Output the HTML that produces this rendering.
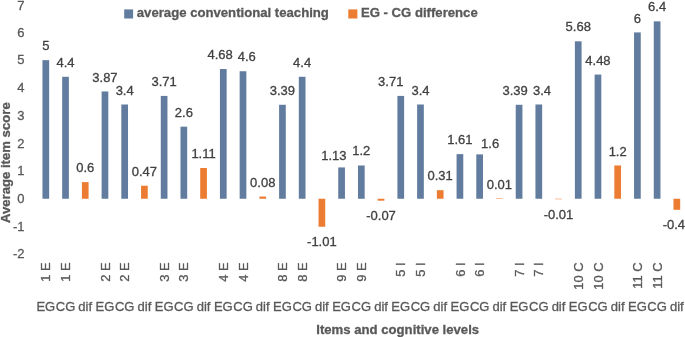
<!DOCTYPE html>
<html><head><meta charset="utf-8"><title>Chart</title>
<style>html,body{margin:0;padding:0;background:#fff;overflow:hidden}text{stroke-width:0.3px}.ax{fill:#595959;stroke:#595959}.dl{fill:#404040;stroke:#404040}.b{font-weight:bold;font-size:13.15px}</style></head>
<body>
<svg width="685" height="337" viewBox="0 0 685 337" style="display:block;font-family:'Liberation Sans',Arial,sans-serif;font-size:13px">
<rect width="685" height="337" fill="#fff"/>
<text x="24.6" y="258.44" text-anchor="end" class="ax">-2</text>
<text x="24.6" y="230.72" text-anchor="end" class="ax">-1</text>
<text x="24.6" y="203.00" text-anchor="end" class="ax">0</text>
<text x="24.6" y="175.28" text-anchor="end" class="ax">1</text>
<text x="24.6" y="147.56" text-anchor="end" class="ax">2</text>
<text x="24.6" y="119.84" text-anchor="end" class="ax">3</text>
<text x="24.6" y="92.12" text-anchor="end" class="ax">4</text>
<text x="24.6" y="64.40" text-anchor="end" class="ax">5</text>
<text x="24.6" y="36.68" text-anchor="end" class="ax">6</text>
<text x="24.6" y="9.70" text-anchor="end" class="ax">7</text>
<text transform="translate(9.7,162.7) rotate(-90)" text-anchor="middle" class="ax b">Average item score</text>
<rect x="124.2" y="9.4" width="8.9" height="9.1" fill="#617c9f"/>
<text x="136.8" y="17.2" class="ax b">average conventional teaching</text>
<rect x="348.3" y="9.4" width="9.1" height="9.1" fill="#ec7c31"/>
<text x="360.9" y="17.2" class="ax b">EG - CG difference</text>
<rect x="42.45" y="60.15" width="6.7" height="138.60" fill="#617c9f"/>
<text x="45.80" y="50.25" text-anchor="middle" class="dl">5</text>
<rect x="62.17" y="76.78" width="6.7" height="121.97" fill="#617c9f"/>
<text x="65.52" y="66.88" text-anchor="middle" class="dl">4.4</text>
<rect x="81.89" y="182.12" width="6.7" height="16.63" fill="#ec7c31"/>
<text x="85.24" y="172.22" text-anchor="middle" class="dl">0.6</text>
<rect x="101.61" y="91.47" width="6.7" height="107.28" fill="#617c9f"/>
<text x="104.96" y="81.57" text-anchor="middle" class="dl">3.87</text>
<rect x="121.33" y="104.50" width="6.7" height="94.25" fill="#617c9f"/>
<text x="124.68" y="94.60" text-anchor="middle" class="dl">3.4</text>
<rect x="141.05" y="185.72" width="6.7" height="13.03" fill="#ec7c31"/>
<text x="144.40" y="175.82" text-anchor="middle" class="dl">0.47</text>
<rect x="160.77" y="95.91" width="6.7" height="102.84" fill="#617c9f"/>
<text x="164.12" y="86.01" text-anchor="middle" class="dl">3.71</text>
<rect x="180.49" y="126.68" width="6.7" height="72.07" fill="#617c9f"/>
<text x="183.84" y="116.78" text-anchor="middle" class="dl">2.6</text>
<rect x="200.21" y="167.98" width="6.7" height="30.77" fill="#ec7c31"/>
<text x="203.56" y="158.08" text-anchor="middle" class="dl">1.11</text>
<rect x="219.93" y="69.02" width="6.7" height="129.73" fill="#617c9f"/>
<text x="220.08" y="59.12" text-anchor="middle" class="dl">4.68</text>
<rect x="239.65" y="71.24" width="6.7" height="127.51" fill="#617c9f"/>
<text x="246.70" y="61.34" text-anchor="middle" class="dl">4.6</text>
<rect x="259.37" y="196.53" width="6.7" height="2.22" fill="#ec7c31"/>
<text x="262.72" y="186.63" text-anchor="middle" class="dl">0.08</text>
<rect x="279.09" y="104.78" width="6.7" height="93.97" fill="#617c9f"/>
<text x="282.44" y="94.88" text-anchor="middle" class="dl">3.39</text>
<rect x="298.81" y="76.78" width="6.7" height="121.97" fill="#617c9f"/>
<text x="302.16" y="66.88" text-anchor="middle" class="dl">4.4</text>
<rect x="318.53" y="198.75" width="6.7" height="28.00" fill="#ec7c31"/>
<text x="321.88" y="246.25" text-anchor="middle" class="dl">-1.01</text>
<rect x="338.25" y="167.43" width="6.7" height="31.32" fill="#617c9f"/>
<text x="333.90" y="160.43" text-anchor="middle" class="dl">1.13</text>
<rect x="357.97" y="165.49" width="6.7" height="33.26" fill="#617c9f"/>
<text x="361.32" y="155.19" text-anchor="middle" class="dl">1.2</text>
<rect x="377.69" y="198.75" width="6.7" height="1.94" fill="#ec7c31"/>
<text x="381.04" y="220.19" text-anchor="middle" class="dl">-0.07</text>
<rect x="397.41" y="95.91" width="6.7" height="102.84" fill="#617c9f"/>
<text x="390.76" y="86.01" text-anchor="middle" class="dl">3.71</text>
<rect x="417.13" y="104.50" width="6.7" height="94.25" fill="#617c9f"/>
<text x="420.48" y="94.60" text-anchor="middle" class="dl">3.4</text>
<rect x="436.85" y="190.16" width="6.7" height="8.59" fill="#ec7c31"/>
<text x="440.20" y="180.26" text-anchor="middle" class="dl">0.31</text>
<rect x="456.57" y="154.12" width="6.7" height="44.63" fill="#617c9f"/>
<text x="459.92" y="144.22" text-anchor="middle" class="dl">1.61</text>
<rect x="476.29" y="154.40" width="6.7" height="44.35" fill="#617c9f"/>
<text x="490.14" y="148.00" text-anchor="middle" class="dl">1.6</text>
<rect x="496.01" y="198.47" width="6.7" height="0.50" fill="#ec7c31"/>
<text x="499.36" y="188.57" text-anchor="middle" class="dl">0.01</text>
<rect x="515.73" y="104.78" width="6.7" height="93.97" fill="#617c9f"/>
<text x="515.08" y="94.88" text-anchor="middle" class="dl">3.39</text>
<rect x="535.45" y="104.50" width="6.7" height="94.25" fill="#617c9f"/>
<text x="542.00" y="94.60" text-anchor="middle" class="dl">3.4</text>
<rect x="555.17" y="198.75" width="6.7" height="0.50" fill="#ec7c31"/>
<text x="558.52" y="218.53" text-anchor="middle" class="dl">-0.01</text>
<rect x="574.89" y="41.30" width="6.7" height="157.45" fill="#617c9f"/>
<text x="578.24" y="31.40" text-anchor="middle" class="dl">5.68</text>
<rect x="594.61" y="74.56" width="6.7" height="124.19" fill="#617c9f"/>
<text x="597.96" y="64.66" text-anchor="middle" class="dl">4.48</text>
<rect x="614.33" y="165.49" width="6.7" height="33.26" fill="#ec7c31"/>
<text x="617.68" y="155.59" text-anchor="middle" class="dl">1.2</text>
<rect x="634.05" y="32.43" width="6.7" height="166.32" fill="#617c9f"/>
<text x="637.40" y="22.53" text-anchor="middle" class="dl">6</text>
<rect x="653.77" y="21.34" width="6.7" height="177.41" fill="#617c9f"/>
<text x="657.12" y="11.44" text-anchor="middle" class="dl">6.4</text>
<rect x="673.49" y="198.75" width="6.7" height="11.09" fill="#ec7c31"/>
<text x="673.84" y="229.34" text-anchor="middle" class="dl">-0.4</text>
<text transform="translate(50.45,262.3) rotate(-90)" text-anchor="end" class="ax">1 E</text>
<text transform="translate(70.17,262.3) rotate(-90)" text-anchor="end" class="ax">1 E</text>
<text transform="translate(109.61,262.3) rotate(-90)" text-anchor="end" class="ax">2 E</text>
<text transform="translate(129.33,262.3) rotate(-90)" text-anchor="end" class="ax">2 E</text>
<text transform="translate(168.77,262.3) rotate(-90)" text-anchor="end" class="ax">3 E</text>
<text transform="translate(188.49,262.3) rotate(-90)" text-anchor="end" class="ax">3 E</text>
<text transform="translate(227.93,262.3) rotate(-90)" text-anchor="end" class="ax">4 E</text>
<text transform="translate(247.65,262.3) rotate(-90)" text-anchor="end" class="ax">4 E</text>
<text transform="translate(287.09,262.3) rotate(-90)" text-anchor="end" class="ax">8 E</text>
<text transform="translate(306.81,262.3) rotate(-90)" text-anchor="end" class="ax">8 E</text>
<text transform="translate(346.25,262.3) rotate(-90)" text-anchor="end" class="ax">9 E</text>
<text transform="translate(365.97,262.3) rotate(-90)" text-anchor="end" class="ax">9 E</text>
<text transform="translate(405.41,262.3) rotate(-90)" text-anchor="end" class="ax">5 I</text>
<text transform="translate(425.13,262.3) rotate(-90)" text-anchor="end" class="ax">5 I</text>
<text transform="translate(464.57,262.3) rotate(-90)" text-anchor="end" class="ax">6 I</text>
<text transform="translate(484.29,262.3) rotate(-90)" text-anchor="end" class="ax">6 I</text>
<text transform="translate(523.73,262.3) rotate(-90)" text-anchor="end" class="ax">7 I</text>
<text transform="translate(543.45,262.3) rotate(-90)" text-anchor="end" class="ax">7 I</text>
<text transform="translate(582.89,262.3) rotate(-90)" text-anchor="end" class="ax">10 C</text>
<text transform="translate(602.61,262.3) rotate(-90)" text-anchor="end" class="ax">10 C</text>
<text transform="translate(642.05,262.3) rotate(-90)" text-anchor="end" class="ax">11 C</text>
<text transform="translate(661.77,262.3) rotate(-90)" text-anchor="end" class="ax">11 C</text>
<text x="45.80" y="310.9" text-anchor="middle" class="ax">EG</text>
<text x="65.52" y="310.9" text-anchor="middle" class="ax">CG</text>
<text x="85.24" y="310.9" text-anchor="middle" class="ax">dif</text>
<text x="104.96" y="310.9" text-anchor="middle" class="ax">EG</text>
<text x="124.68" y="310.9" text-anchor="middle" class="ax">CG</text>
<text x="144.40" y="310.9" text-anchor="middle" class="ax">dif</text>
<text x="164.12" y="310.9" text-anchor="middle" class="ax">EG</text>
<text x="183.84" y="310.9" text-anchor="middle" class="ax">CG</text>
<text x="203.56" y="310.9" text-anchor="middle" class="ax">dif</text>
<text x="223.28" y="310.9" text-anchor="middle" class="ax">EG</text>
<text x="243.00" y="310.9" text-anchor="middle" class="ax">CG</text>
<text x="262.72" y="310.9" text-anchor="middle" class="ax">dif</text>
<text x="282.44" y="310.9" text-anchor="middle" class="ax">EG</text>
<text x="302.16" y="310.9" text-anchor="middle" class="ax">CG</text>
<text x="321.88" y="310.9" text-anchor="middle" class="ax">dif</text>
<text x="341.60" y="310.9" text-anchor="middle" class="ax">EG</text>
<text x="361.32" y="310.9" text-anchor="middle" class="ax">CG</text>
<text x="381.04" y="310.9" text-anchor="middle" class="ax">dif</text>
<text x="400.76" y="310.9" text-anchor="middle" class="ax">EG</text>
<text x="420.48" y="310.9" text-anchor="middle" class="ax">CG</text>
<text x="440.20" y="310.9" text-anchor="middle" class="ax">dif</text>
<text x="459.92" y="310.9" text-anchor="middle" class="ax">EG</text>
<text x="479.64" y="310.9" text-anchor="middle" class="ax">CG</text>
<text x="499.36" y="310.9" text-anchor="middle" class="ax">dif</text>
<text x="519.08" y="310.9" text-anchor="middle" class="ax">EG</text>
<text x="538.80" y="310.9" text-anchor="middle" class="ax">CG</text>
<text x="558.52" y="310.9" text-anchor="middle" class="ax">dif</text>
<text x="578.24" y="310.9" text-anchor="middle" class="ax">EG</text>
<text x="597.96" y="310.9" text-anchor="middle" class="ax">CG</text>
<text x="617.68" y="310.9" text-anchor="middle" class="ax">dif</text>
<text x="637.40" y="310.9" text-anchor="middle" class="ax">EG</text>
<text x="657.12" y="310.9" text-anchor="middle" class="ax">CG</text>
<text x="676.84" y="310.9" text-anchor="middle" class="ax">dif</text>
<text x="397.7" y="333.9" text-anchor="middle" class="ax b">Items and cognitive levels</text>
</svg>
</body></html>
